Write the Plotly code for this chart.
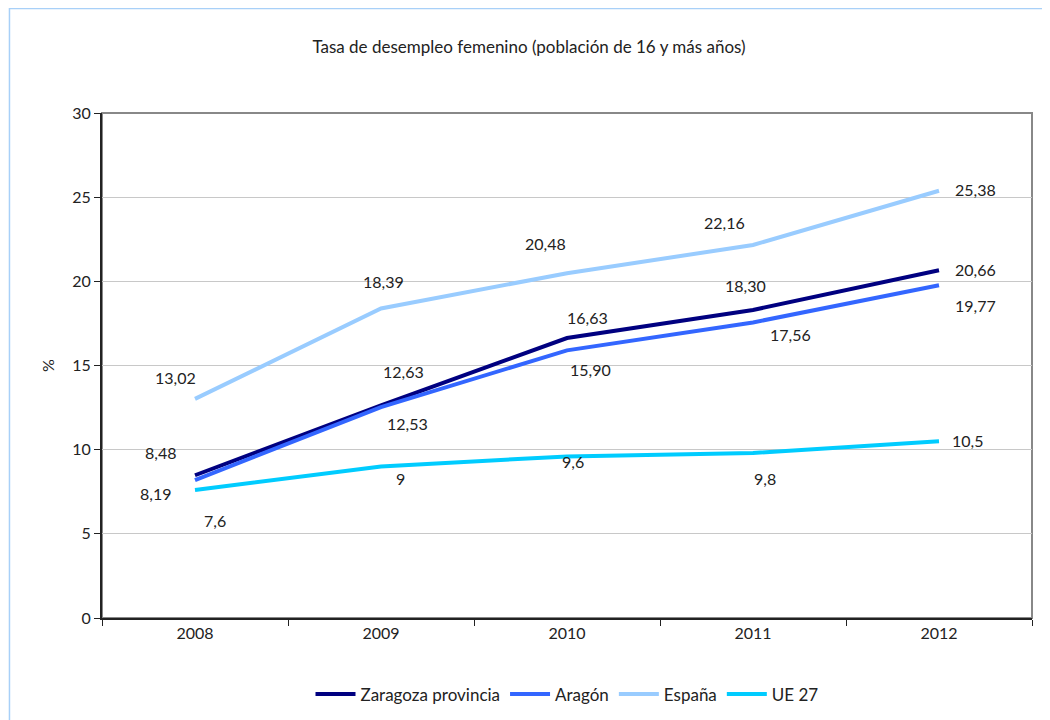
import plotly.graph_objects as go

years = ['2008', '2009', '2010', '2011', '2012']

zaragoza = [8.48, 12.63, 16.63, 18.30, 20.66]
aragon = [8.19, 12.53, 15.90, 17.56, 19.77]
espana = [13.02, 18.39, 20.48, 22.16, 25.38]
ue27 = [7.6, 9, 9.6, 9.8, 10.5]

zaragoza_txt = ['8,48', '12,63', '16,63', '18,30', '20,66']
aragon_txt = ['8,19', '12,53', '15,90', '17,56', '19,77']
espana_txt = ['13,02', '18,39', '20,48', '22,16', '25,38']
ue27_txt = ['7,6', '9', '9,6', '9,8', '10,5']

# label offsets (px) from each point, x right / y up
zaragoza_off = [(-35, 23), (22, 34), (20, 21), (-8, 24), (36, 1)]
aragon_off = [(-40, -13), (26, -16), (23, -19), (37, -12), (36, -20)]
espana_off = [(-20, 21), (2, 27), (-22, 30), (-29, 22), (36, 1)]
ue27_off = [(20, -30), (19, -12), (6, -5), (12, -25), (28, 1)]

FONT = 'Lato'
TXT = '#222222'

fig = go.Figure()

series = [
    ('Zaragoza provincia', zaragoza, zaragoza_txt, zaragoza_off, '#000080'),
    ('Aragón', aragon, aragon_txt, aragon_off, '#3366FF'),
    ('España', espana, espana_txt, espana_off, '#99CCFF'),
    ('UE 27', ue27, ue27_txt, ue27_off, '#00CCFF'),
]

for name, vals, txt, off, col in series:
    fig.add_trace(go.Scatter(
        x=years, y=vals, mode='lines', name=name,
        line=dict(color=col, width=4),
        hoverinfo='skip'
    ))

# category axis: annotations placed by category index
annotations = []
for name, vals, txt, off, col in series:
    for i, (v, t, (dx, dy)) in enumerate(zip(vals, txt, off)):
        annotations.append(dict(
            x=i, y=v, xref='x', yref='y', text=t, showarrow=False,
            xshift=dx, yshift=dy,
            font=dict(family=FONT, size=16, color=TXT)
        ))

# gray frame around plot area, light blue frame around chart
shapes = [
    dict(type='rect', xref='paper', yref='paper', x0=0, x1=1, y0=0, y1=1,
         line=dict(color='#888888', width=2), layer='below'),
    dict(type='rect', xref='paper', yref='paper',
         x0=-0.0995, x1=1.05, y0=-0.25, y1=1.207,
         line=dict(color='#A8D0F8', width=1.5), layer='below'),
]

fig.update_layout(
    width=1042, height=712,
    paper_bgcolor='white', plot_bgcolor='white',
    margin=dict(l=94, r=18, t=105, b=102),
    title=dict(
        text='Tasa de desempleo femenino (población de 16 y más años)',
        x=0.5, xanchor='center', y=0.945, yanchor='middle',
        font=dict(family=FONT, size=17, color=TXT)
    ),
    font=dict(family=FONT, size=16, color=TXT),
    showlegend=True,
    legend=dict(
        orientation='h', x=0.5, xanchor='center',
        yref='container', y=0.036, yanchor='middle',
        font=dict(family=FONT, size=17, color=TXT),
        itemwidth=40, tracegroupgap=0
    ),
    xaxis=dict(
        type='category', tickson='boundaries',
        ticks='outside', ticklen=6, tickcolor=TXT, tickwidth=1,
        showline=True, linecolor=TXT, linewidth=2,
        showgrid=False, range=[-0.5, 4.5],
        tickfont=dict(family=FONT, size=16, color=TXT)
    ),
    yaxis=dict(
        range=[0, 30], dtick=5,
        ticks='outside', ticklen=6, tickcolor=TXT, tickwidth=1,
        showline=True, linecolor=TXT, linewidth=2,
        showgrid=True, gridcolor='#C8C8C8', gridwidth=1,
        zeroline=False,
        title=dict(text='%', standoff=14,
                   font=dict(family=FONT, size=16, color=TXT)),
        tickfont=dict(family=FONT, size=16, color=TXT)
    ),
    annotations=annotations,
    shapes=shapes,
)

fig.write_html('out.html')
